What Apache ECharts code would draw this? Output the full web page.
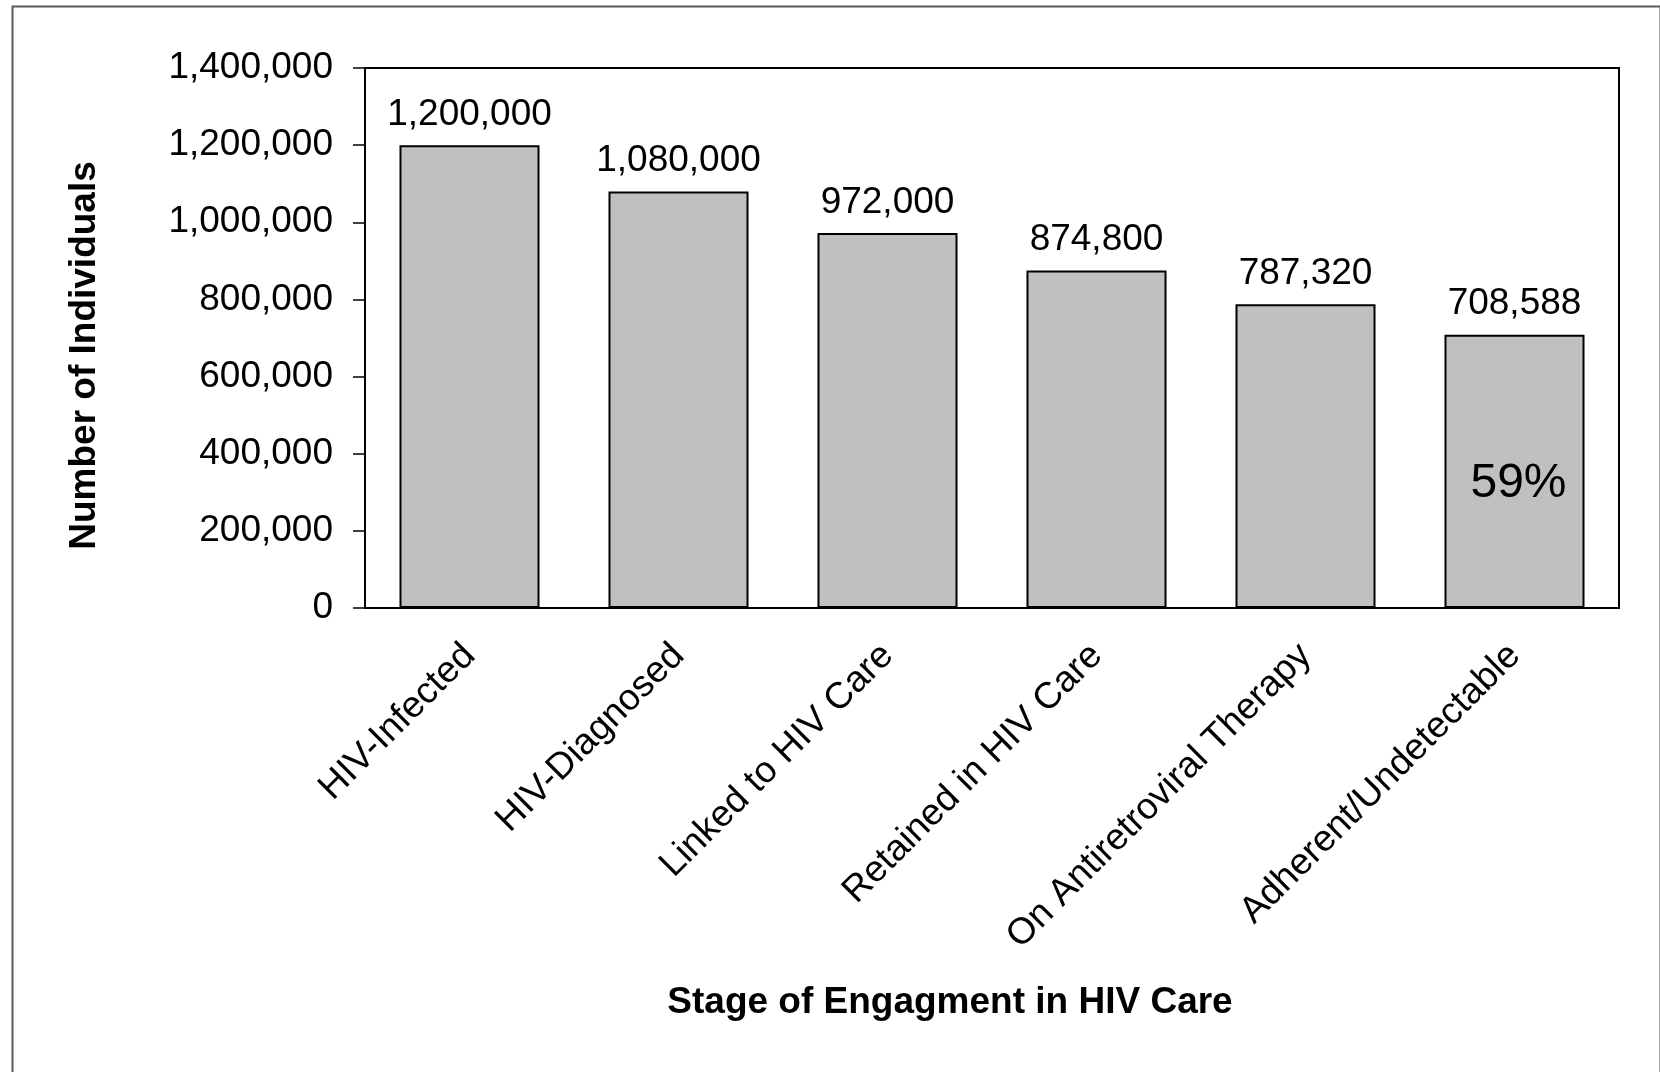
<!DOCTYPE html>
<html>
<head>
<meta charset="utf-8">
<script src="https://cdn.jsdelivr.net/npm/echarts@6/dist/echarts.min.js"></script>
<style>
  html, body { margin: 0; padding: 0; background: #fff; }
  #careChart { width: 1660px; height: 1072px; }
</style>
</head>
<body>
<div id="careChart"></div>
<script>
const categories = [
  "HIV-Infected",
  "HIV-Diagnosed",
  "Linked to HIV Care",
  "Retained in HIV Care",
  "On Antiretroviral Therapy",
  "Adherent/Undetectable"
];
const individuals = [1200000, 1080000, 972000, 874800, 787320, 708588];
const yMin = 0;
const yMax = 1400000;
const yStep = 200000;
// the "59%" note sits inside the last bar
const noteText = "59%";
const noteCategory = 5;
const noteValue = 322000;

const font = "'Liberation Sans', Arial, sans-serif";
const fmt = v => Number(v).toLocaleString("en-US");

const chart = echarts.init(document.getElementById("careChart"));
const options = {
  backgroundColor: "#fff",
  animation: false,
  textStyle: { fontFamily: font, color: "#000" },
  graphic: [{
    type: "rect",
    left: 10,
    top: 4,
    shape: { width: 1648, height: 1100 },
    style: { fill: "none", stroke: "#5a5a5a", lineWidth: 2 }
  }],
  grid: {
    left: 365,
    top: 68,
    right: 41,
    bottom: 464,
    show: true,
    borderColor: "#000",
    borderWidth: 2,
    backgroundColor: "#fff"
  },
  xAxis: {
    type: "category",
    data: categories,
    name: "Stage of Engagment in HIV Care",
    nameLocation: "middle",
    nameGap: 376,
    nameTextStyle: {
      fontSize: 37,
      fontWeight: "bold",
      fontFamily: font,
      color: "#000",
      padding: [0, 84, 0, 0]
    },
    axisLine: { lineStyle: { color: "#000", width: 2 } },
    axisTick: { length: 12, lineStyle: { color: "#000", width: 1.5 } },
    axisLabel: {
      rotate: 45,
      interval: 0,
      margin: 42,
      fontSize: 37,
      fontFamily: font,
      color: "#000"
    },
    splitLine: { show: false }
  },
  yAxis: {
    type: "value",
    min: yMin,
    max: yMax,
    interval: yStep,
    name: "Number of Individuals",
    nameLocation: "middle",
    nameRotate: 90,
    nameGap: 262,
    nameTextStyle: {
      fontSize: 37,
      fontWeight: "bold",
      fontFamily: font,
      color: "#000",
      padding: [0, 35, 0, 0]
    },
    axisLine: { show: true, lineStyle: { color: "#000", width: 2 } },
    axisTick: { show: true, length: 12, lineStyle: { color: "#000", width: 1.5 } },
    axisLabel: {
      margin: 32,
      fontSize: 37,
      fontFamily: font,
      color: "#000",
      formatter: fmt
    },
    splitLine: { show: false }
  },
  series: [{
    type: "bar",
    data: individuals,
    barWidth: "67%",
    itemStyle: { color: "#c0c0c0", borderColor: "#000", borderWidth: 2 },
    label: {
      show: true,
      position: "top",
      distance: 12,
      fontSize: 37,
      fontFamily: font,
      color: "#000",
      formatter: p => fmt(p.value)
    },
    markPoint: {
      symbol: "rect",
      symbolSize: 1,
      itemStyle: { color: "rgba(0,0,0,0)" },
      label: {
        show: true,
        position: "inside",
        offset: [4, 0],
        fontSize: 48,
        fontFamily: font,
        color: "#000",
        formatter: noteText
      },
      data: [{ coord: [noteCategory, noteValue] }]
    }
  }]
};
chart.setOption(options);
</script>
</body>
</html>
